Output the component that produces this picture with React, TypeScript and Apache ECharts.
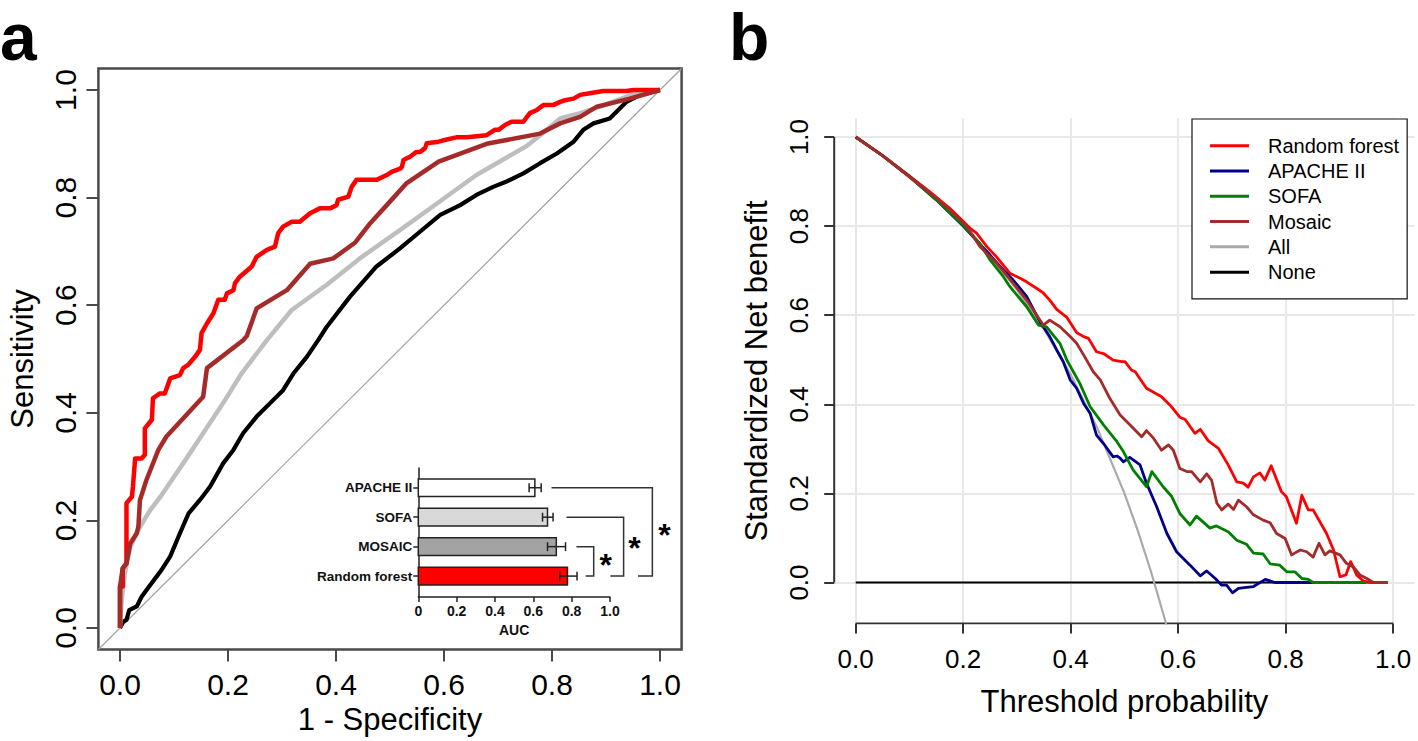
import React, { useEffect, useRef } from 'react';
import * as echarts from 'echarts';

const FONT = '"Liberation Sans", Arial, Helvetica, sans-serif';

// ---------- Panel a: ROC curves, points are [1 - specificity, sensitivity] ----------
const rocTicks = [0, 0.2, 0.4, 0.6, 0.8, 1.0];
const rocDiagonal = [[-0.04, -0.04], [1.04, 1.04]];
const rocRandomForest = [
  [0, 0], [0, 0.077], [0.005, 0.077], [0.005, 0.111], [0.012, 0.12], [0.012, 0.232], [0.022, 0.244],
  [0.024, 0.263], [0.028, 0.315], [0.04, 0.315], [0.046, 0.322], [0.046, 0.371], [0.059, 0.387],
  [0.061, 0.427], [0.074, 0.436], [0.083, 0.436], [0.093, 0.464], [0.111, 0.47], [0.117, 0.483],
  [0.126, 0.489], [0.139, 0.504], [0.148, 0.517], [0.151, 0.548], [0.161, 0.566], [0.173, 0.585],
  [0.182, 0.61], [0.194, 0.61], [0.198, 0.622], [0.21, 0.628], [0.213, 0.641], [0.222, 0.653],
  [0.244, 0.672], [0.253, 0.69], [0.272, 0.703], [0.287, 0.709], [0.293, 0.734], [0.302, 0.746],
  [0.318, 0.755], [0.333, 0.755], [0.352, 0.771], [0.37, 0.78], [0.389, 0.78], [0.401, 0.786],
  [0.404, 0.796], [0.423, 0.802], [0.429, 0.82], [0.438, 0.833], [0.475, 0.833], [0.494, 0.842],
  [0.503, 0.848], [0.519, 0.854], [0.522, 0.857], [0.525, 0.87], [0.537, 0.876], [0.549, 0.885],
  [0.556, 0.885], [0.565, 0.892], [0.568, 0.901], [0.59, 0.904], [0.605, 0.908], [0.623, 0.912],
  [0.642, 0.912], [0.679, 0.916], [0.694, 0.926], [0.701, 0.926], [0.713, 0.935], [0.725, 0.941],
  [0.747, 0.941], [0.759, 0.957], [0.772, 0.963], [0.784, 0.972], [0.802, 0.972], [0.815, 0.978],
  [0.824, 0.981], [0.84, 0.984], [0.852, 0.991], [0.87, 0.994], [0.895, 0.998], [0.938, 0.998],
  [0.951, 1.0], [1, 1],
];
const rocMosaic = [
  [0, 0], [0, 0.077], [0.005, 0.111], [0.012, 0.12], [0.019, 0.157], [0.031, 0.176], [0.034, 0.188],
  [0.037, 0.238], [0.049, 0.275], [0.071, 0.331], [0.086, 0.356], [0.154, 0.43], [0.161, 0.483],
  [0.228, 0.535], [0.235, 0.543], [0.253, 0.594], [0.309, 0.628], [0.352, 0.677], [0.395, 0.687],
  [0.435, 0.716], [0.463, 0.752], [0.494, 0.786], [0.531, 0.827], [0.59, 0.867], [0.679, 0.9],
  [0.778, 0.919], [0.815, 0.938], [0.852, 0.95], [0.883, 0.969], [0.944, 0.984], [1, 1],
];
const rocSofa = [
  [0, 0], [0.003, 0.052], [0.009, 0.102], [0.019, 0.151], [0.037, 0.188], [0.056, 0.219],
  [0.077, 0.247], [0.117, 0.306], [0.154, 0.362], [0.191, 0.418], [0.225, 0.473], [0.272, 0.535],
  [0.318, 0.591], [0.383, 0.638], [0.444, 0.687], [0.519, 0.74], [0.562, 0.771], [0.66, 0.842],
  [0.753, 0.896], [0.778, 0.916], [0.815, 0.947], [0.852, 0.957], [0.889, 0.969], [0.926, 0.983],
  [0.963, 0.997], [1, 1],
];
const rocApache = [
  [0, 0], [0.006, 0.012], [0.012, 0.015], [0.017, 0.033], [0.031, 0.04], [0.04, 0.058], [0.056, 0.08],
  [0.077, 0.108], [0.093, 0.133], [0.111, 0.176], [0.127, 0.213], [0.148, 0.238], [0.167, 0.263],
  [0.191, 0.306], [0.21, 0.331], [0.228, 0.362], [0.253, 0.393], [0.278, 0.418], [0.302, 0.442],
  [0.321, 0.473], [0.346, 0.504], [0.367, 0.535], [0.383, 0.56], [0.426, 0.616], [0.475, 0.672],
  [0.519, 0.706], [0.556, 0.737], [0.593, 0.768], [0.63, 0.786], [0.66, 0.805], [0.691, 0.82],
  [0.716, 0.83], [0.747, 0.845], [0.778, 0.864], [0.809, 0.882], [0.84, 0.904], [0.858, 0.926],
  [0.877, 0.938], [0.907, 0.947], [0.92, 0.96], [0.938, 0.978], [0.963, 0.991], [1, 1],
];

// ---------- Panel a inset: AUC bar chart ----------
const aucModels = ['APACHE II', 'SOFA', 'MOSAIC', 'Random forest'];
const aucValues = [0.608, 0.674, 0.72, 0.778];
const aucLower = [0.578, 0.648, 0.674, 0.738];
const aucUpper = [0.641, 0.703, 0.768, 0.828];
const aucColors = ['#ffffff', '#d9d9d9', '#a3a3a3', '#ff0000'];
const aucTicks = [0, 0.2, 0.4, 0.6, 0.8, 1.0];
// significance brackets: compared model -> Random forest
const bracketFrom = [2, 1, 0];
const bracketStartX = [0.825, 0.773, 0.695];
const bracketVertX = [0.915, 1.071, 1.221];
const bracketEndX = [0.873, 1.002, 1.146];
const starX = [0.978, 1.128, 1.284];
const starY = [1.6, 2.19, 2.6];

// ---------- Panel b: decision curves, points are [threshold probability, standardized net benefit] ----------
const dcaTicks = [0, 0.2, 0.4, 0.6, 0.8, 1.0];
const dcaNames = ['Random forest', 'APACHE II', 'SOFA', 'Mosaic', 'All', 'None'];
const dcaColors = ['#ff0000', '#00008b', '#008000', '#a52a2a', '#a9a9a9', '#000000'];
const dcaRandomForest = [
  [0, 1], [0.05, 0.958], [0.095, 0.917], [0.138, 0.877], [0.175, 0.84], [0.213, 0.795], [0.225, 0.784],
  [0.244, 0.754], [0.262, 0.731], [0.287, 0.694], [0.306, 0.683], [0.318, 0.675], [0.337, 0.66],
  [0.349, 0.65], [0.361, 0.634], [0.374, 0.613], [0.393, 0.595], [0.411, 0.561], [0.424, 0.552],
  [0.433, 0.548], [0.448, 0.518], [0.461, 0.514], [0.479, 0.499], [0.495, 0.496], [0.501, 0.496],
  [0.513, 0.477], [0.52, 0.473], [0.541, 0.436], [0.569, 0.417], [0.585, 0.398], [0.603, 0.371],
  [0.613, 0.366], [0.631, 0.335], [0.641, 0.344], [0.656, 0.318], [0.675, 0.301], [0.693, 0.264],
  [0.709, 0.226], [0.721, 0.223], [0.73, 0.214], [0.74, 0.237], [0.752, 0.246], [0.761, 0.23],
  [0.773, 0.262], [0.792, 0.204], [0.801, 0.193], [0.82, 0.133], [0.83, 0.196], [0.842, 0.163],
  [0.851, 0.163], [0.876, 0.11], [0.889, 0.073], [0.901, 0.013], [0.912, 0.017], [0.921, 0.047],
  [0.932, 0.017], [0.944, 0.004], [0.957, 0], [0.99, 0],
];
const dcaApache = [
  [0, 1], [0.05, 0.958], [0.1, 0.911], [0.15, 0.859], [0.2, 0.8], [0.25, 0.735], [0.275, 0.701],
  [0.293, 0.679], [0.318, 0.642], [0.343, 0.585], [0.361, 0.552], [0.374, 0.522], [0.386, 0.496],
  [0.399, 0.455], [0.411, 0.436], [0.424, 0.402], [0.436, 0.38], [0.448, 0.331], [0.461, 0.312],
  [0.479, 0.282], [0.486, 0.284], [0.492, 0.279], [0.498, 0.271], [0.51, 0.281], [0.529, 0.264],
  [0.541, 0.223], [0.56, 0.17], [0.579, 0.11], [0.597, 0.069], [0.622, 0.039], [0.641, 0.015],
  [0.653, 0.026], [0.669, 0.009], [0.681, -0.006], [0.69, -0.006], [0.701, -0.023], [0.712, -0.013],
  [0.727, -0.011], [0.74, -0.009], [0.762, 0.007], [0.78, 0], [0.85, 0],
];
const dcaSofa = [
  [0, 1], [0.05, 0.958], [0.1, 0.911], [0.15, 0.859], [0.2, 0.802], [0.231, 0.761], [0.25, 0.724],
  [0.275, 0.686], [0.287, 0.664], [0.318, 0.619], [0.34, 0.578], [0.355, 0.574], [0.38, 0.537],
  [0.393, 0.499], [0.417, 0.447], [0.436, 0.395], [0.461, 0.354], [0.486, 0.316], [0.498, 0.294],
  [0.516, 0.253], [0.541, 0.215], [0.551, 0.249], [0.572, 0.215], [0.588, 0.193], [0.603, 0.155],
  [0.622, 0.129], [0.634, 0.149], [0.659, 0.122], [0.671, 0.127], [0.693, 0.114], [0.709, 0.095],
  [0.727, 0.086], [0.74, 0.066], [0.758, 0.064], [0.771, 0.042], [0.789, 0.039], [0.802, 0.024],
  [0.817, 0.024], [0.83, 0.009], [0.842, 0.007], [0.851, 0], [0.95, 0],
];
const dcaMosaic = [
  [0, 1], [0.05, 0.958], [0.095, 0.915], [0.151, 0.862], [0.175, 0.836], [0.207, 0.799], [0.231, 0.754],
  [0.262, 0.717], [0.293, 0.672], [0.318, 0.634], [0.349, 0.578], [0.361, 0.589], [0.38, 0.574],
  [0.399, 0.552], [0.411, 0.537], [0.424, 0.511], [0.442, 0.473], [0.455, 0.455], [0.473, 0.413],
  [0.492, 0.376], [0.51, 0.354], [0.532, 0.327], [0.541, 0.341], [0.554, 0.324], [0.569, 0.297],
  [0.582, 0.309], [0.591, 0.297], [0.603, 0.256], [0.616, 0.249], [0.625, 0.249], [0.641, 0.226],
  [0.653, 0.244], [0.662, 0.23], [0.672, 0.178], [0.681, 0.163], [0.693, 0.176], [0.703, 0.164],
  [0.712, 0.185], [0.727, 0.17], [0.74, 0.152], [0.758, 0.14], [0.771, 0.134], [0.783, 0.11],
  [0.799, 0.099], [0.811, 0.062], [0.827, 0.073], [0.839, 0.069], [0.851, 0.057], [0.862, 0.088],
  [0.873, 0.062], [0.882, 0.071], [0.901, 0.062], [0.913, 0.043], [0.926, 0.035], [0.938, 0.017],
  [0.951, 0.009], [0.963, 0], [0.99, 0],
];
const dcaAll = [
  [0, 1], [0.05, 0.958], [0.1, 0.911], [0.15, 0.859], [0.2, 0.8], [0.25, 0.733], [0.3, 0.657],
  [0.35, 0.569], [0.4, 0.467], [0.45, 0.345], [0.5, 0.2], [0.525, 0.116], [0.55, 0.022],
  [0.575, -0.082], [0.6, -0.2],
];
const dcaNone = [[0, 0], [0.99, 0]];

function lineSeries(name: string, data: number[][], color: string, width: number, idx: number, z: number) {
  return {
    type: 'line', name, data, xAxisIndex: idx, yAxisIndex: idx,
    showSymbol: false, symbol: 'none', silent: true, z,
    lineStyle: { color, width, join: 'round', cap: 'butt' },
    itemStyle: { color },
  };
}

function buildOption() {
  const tickFmt = (v: number) => v.toFixed(1);
  const barData = aucModels.map((_, i) => [aucValues[i], aucModels.length - i, i]);
  const errData = aucModels.map((_, i) => [aucLower[i], aucModels.length - i, aucUpper[i]]);
  const refPos = aucModels.length - 3; // Random forest position
  const bracketData = bracketFrom.map((m, i) => [
    bracketStartX[i], aucModels.length - m, bracketVertX[i], refPos, bracketEndX[i], starX[i], starY[i],
  ]);

  return {
    animation: false,
    backgroundColor: '#ffffff',
    textStyle: { fontFamily: FONT },
    grid: [
      { left: 98.4, top: 68.5, width: 583.2, height: 581, show: true, borderColor: '#4a4a4a', borderWidth: 2.5, backgroundColor: 'transparent', outerBoundsMode: 'none' },
      { left: 418.3, top: 468, width: 191.7, height: 129, outerBoundsMode: 'none' },
      { left: 834.2, top: 118.3, width: 580.5, height: 505.2, outerBoundsMode: 'none' },
    ],
    xAxis: [
      {
        gridIndex: 0, type: 'value', min: -0.04, max: 1.04,
        axisLine: { show: false, onZero: false },
        axisTick: { show: true, customValues: rocTicks, length: 12, lineStyle: { color: '#4a4a4a', width: 2 } },
        axisLabel: { customValues: rocTicks, formatter: tickFmt, fontSize: 30, color: '#000', margin: 20, fontFamily: FONT },
        splitLine: { show: false },
        name: '1 - Specificity', nameLocation: 'middle', nameGap: 54,
        nameTextStyle: { fontSize: 31, color: '#000', fontFamily: FONT },
      },
      {
        gridIndex: 1, type: 'value', min: 0, max: 1, interval: 0.2,
        axisLine: { show: true, onZero: false, lineStyle: { color: '#222', width: 1.5 } },
        axisTick: { show: true, customValues: aucTicks, length: 5, lineStyle: { color: '#222', width: 1.5 } },
        axisLabel: { customValues: aucTicks, formatter: (v: number) => (v === 0 ? '0' : v.toFixed(1)), fontSize: 14, fontWeight: 'bold', color: '#111', margin: 7, fontFamily: FONT },
        splitLine: { show: false },
        name: 'AUC', nameLocation: 'middle', nameGap: 26,
        nameTextStyle: { fontSize: 14, fontWeight: 'bold', color: '#111', fontFamily: FONT },
      },
      {
        gridIndex: 2, type: 'value', min: -0.04, max: 1.04,
        axisLine: { show: false, onZero: false },
        axisTick: { show: true, customValues: dcaTicks, length: 10, lineStyle: { color: '#333', width: 2 } },
        axisLabel: { customValues: dcaTicks, formatter: tickFmt, fontSize: 26, color: '#000', margin: 22, fontFamily: FONT },
        splitLine: { show: true, lineStyle: { color: '#e8e8e8', width: 2 } },
        name: 'Threshold probability', nameLocation: 'middle', nameGap: 62,
        nameTextStyle: { fontSize: 31, color: '#000', fontFamily: FONT },
      },
    ],
    yAxis: [
      {
        gridIndex: 0, type: 'value', min: -0.04, max: 1.04,
        axisLine: { show: false, onZero: false },
        axisTick: { show: true, customValues: rocTicks, length: 12, lineStyle: { color: '#4a4a4a', width: 2 } },
        axisLabel: { customValues: rocTicks, formatter: tickFmt, fontSize: 30, color: '#000', margin: 18, rotate: 90, fontFamily: FONT },
        splitLine: { show: false },
        name: 'Sensitivity', nameLocation: 'middle', nameRotate: 90, nameGap: 60,
        nameTextStyle: { fontSize: 31, color: '#000', fontFamily: FONT },
      },
      {
        gridIndex: 1, type: 'value', min: 0.29, max: 4.67,
        axisLine: { show: true, onZero: false, lineStyle: { color: '#222', width: 1.5 } },
        axisTick: { show: true, customValues: [1, 2, 3, 4], length: 5, lineStyle: { color: '#222', width: 1.5 } },
        axisLabel: { customValues: [1, 2, 3, 4], formatter: (v: number) => aucModels[aucModels.length - Math.round(v)], fontSize: 13.5, fontWeight: 'bold', color: '#111', margin: 6, fontFamily: FONT },
        splitLine: { show: false },
      },
      {
        gridIndex: 2, type: 'value', min: -0.092, max: 1.042,
        axisLine: { show: false, onZero: false },
        axisTick: { show: true, customValues: dcaTicks, length: 10, lineStyle: { color: '#333', width: 2 } },
        axisLabel: { customValues: dcaTicks, formatter: tickFmt, fontSize: 26, color: '#000', margin: 22, rotate: 90, fontFamily: FONT },
        splitLine: { show: true, lineStyle: { color: '#e8e8e8', width: 2 } },
        name: 'Standardized Net benefit', nameLocation: 'middle', nameRotate: 90, nameGap: 62,
        nameTextStyle: { fontSize: 31, color: '#000', fontFamily: FONT },
      },
    ],
    legend: {
      data: dcaNames,
      orient: 'vertical', left: 1192, top: 119,
      padding: [14, 8, 14, 18], itemGap: 0, itemWidth: 39, itemHeight: 3, icon: 'rect',
      textStyle: { fontSize: 20, lineHeight: 25.3, color: '#000', fontFamily: FONT, padding: [0, 0, 0, 14] },
      borderColor: '#111', borderWidth: 1.2, borderRadius: 0, backgroundColor: '#ffffff',
      selectedMode: false,
    },
    graphic: [
      { type: 'text', x: 0, y: 37, style: { text: 'a', font: `bold 66px ${FONT}`, fill: '#000', textAlign: 'left', textVerticalAlign: 'middle', align: 'left', verticalAlign: 'middle' } },
      { type: 'text', x: 729, y: 37, style: { text: 'b', font: `bold 66px ${FONT}`, fill: '#000', textAlign: 'left', textVerticalAlign: 'middle', align: 'left', verticalAlign: 'middle' } },
    ],
    series: [
      // Panel a
      lineSeries('Reference diagonal', rocDiagonal, '#a0a0a0', 1.2, 0, 2),
      lineSeries('ROC APACHE II', rocApache, '#000000', 4.2, 0, 3),
      lineSeries('ROC SOFA', rocSofa, '#bebebe', 4.5, 0, 4),
      lineSeries('ROC Random forest', rocRandomForest, '#ff0000', 4.5, 0, 5),
      lineSeries('ROC MOSAIC', rocMosaic, '#a52a2a', 4.5, 0, 6),
      // Inset bars
      {
        type: 'custom', name: 'AUC bars', xAxisIndex: 1, yAxisIndex: 1, silent: true, z: 10, clip: false,
        data: barData,
        renderItem: (_p: any, api: any) => {
          const v = api.value(0), pos = api.value(1), ci = api.value(2);
          const s = api.coord([0, pos]);
          const e = api.coord([v, pos]);
          const h = api.size([0, 0.6])[1];
          return { type: 'rect', shape: { x: s[0], y: s[1] - h / 2, width: e[0] - s[0], height: h }, style: { fill: aucColors[ci], stroke: '#222', lineWidth: 1.5 } };
        },
      },
      {
        type: 'custom', name: 'AUC CI', xAxisIndex: 1, yAxisIndex: 1, silent: true, z: 11, clip: false,
        data: errData,
        renderItem: (_p: any, api: any) => {
          const lo = api.value(0), pos = api.value(1), hi = api.value(2);
          const a = api.coord([lo, pos]);
          const b = api.coord([hi, pos]);
          const ch = api.size([0, 0.3])[1];
          const st = { stroke: '#222', lineWidth: 1.5 };
          return {
            type: 'group', children: [
              { type: 'line', shape: { x1: a[0], y1: a[1], x2: b[0], y2: b[1] }, style: st },
              { type: 'line', shape: { x1: a[0], y1: a[1] - ch / 2, x2: a[0], y2: a[1] + ch / 2 }, style: st },
              { type: 'line', shape: { x1: b[0], y1: b[1] - ch / 2, x2: b[0], y2: b[1] + ch / 2 }, style: st },
            ],
          };
        },
      },
      {
        type: 'custom', name: 'AUC significance', xAxisIndex: 1, yAxisIndex: 1, silent: true, z: 11, clip: false,
        data: bracketData,
        renderItem: (_p: any, api: any) => {
          const x0 = api.value(0), yf = api.value(1), xv = api.value(2), yt = api.value(3), x1 = api.value(4), sx = api.value(5), sy = api.value(6);
          const p0 = api.coord([x0, yf]);
          const p1 = api.coord([xv, yf]);
          const p2 = api.coord([xv, yt]);
          const p3 = api.coord([x1, yt]);
          const s = api.coord([sx, sy]);
          return {
            type: 'group', children: [
              { type: 'polyline', shape: { points: [p0, p1, p2, p3] }, style: { stroke: '#333', lineWidth: 1.5, fill: 'none' } },
              { type: 'text', x: s[0], y: s[1] + 6.5, style: { text: '*', font: `bold 32px ${FONT}`, fill: '#000', align: 'center', verticalAlign: 'middle', textAlign: 'center', textVerticalAlign: 'middle' } },
            ],
          };
        },
      },
      // Panel b axis lines (drawn from first to last tick, as in base R)
      lineSeries('y axis line', [[-0.04, 0], [-0.04, 1]], '#333333', 2, 2, 1),
      lineSeries('x axis line', [[0, -0.092], [1, -0.092]], '#333333', 2, 2, 1),
      // Panel b curves
      lineSeries(dcaNames[5], dcaNone, dcaColors[5], 2, 2, 3),
      lineSeries(dcaNames[4], dcaAll, dcaColors[4], 2.2, 2, 4),
      lineSeries(dcaNames[0], dcaRandomForest, dcaColors[0], 2.8, 2, 5),
      lineSeries(dcaNames[1], dcaApache, dcaColors[1], 2.8, 2, 6),
      lineSeries(dcaNames[2], dcaSofa, dcaColors[2], 2.8, 2, 7),
      lineSeries(dcaNames[3], dcaMosaic, dcaColors[3], 2.8, 2, 8),
    ],
  };
}

export default function App() {
  const ref = useRef<HTMLDivElement>(null);
  useEffect(() => {
    if (!ref.current) return;
    const chart = echarts.init(ref.current, undefined, { renderer: 'svg' });
    chart.setOption(buildOption() as any);
    return () => chart.dispose();
  }, []);
  return (
    <div
      ref={ref}
      style={{ position: 'fixed', left: 0, top: 0, width: 1418, height: 741, background: '#ffffff' }}
    />
  );
}
